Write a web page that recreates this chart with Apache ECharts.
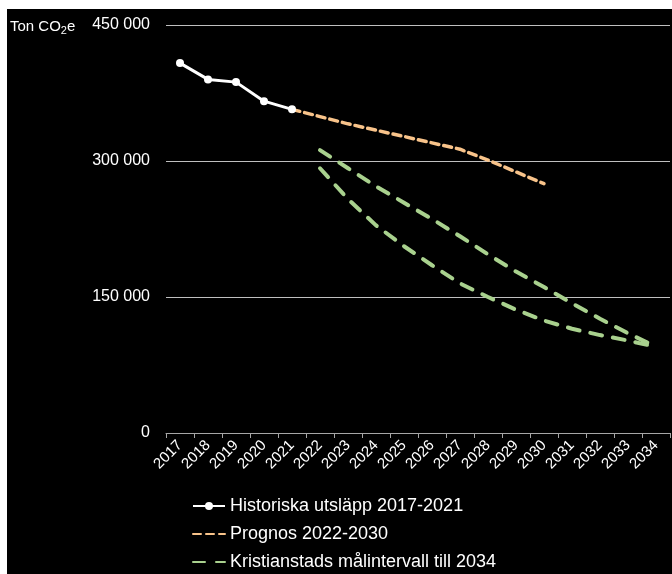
<!DOCTYPE html>
<html>
<head>
<meta charset="utf-8">
<script src="https://cdn.jsdelivr.net/npm/echarts@6/dist/echarts.min.js"></script>
<style>
html,body{margin:0;padding:0;background:#ffffff;width:672px;height:574px;overflow:hidden;}
#c{position:absolute;left:7px;top:9px;width:665px;height:565px;background:#000000;}
</style>
</head>
<body>
<div id="c"></div>
<script>
var years = ['2017','2018','2019','2020','2021','2022','2023','2024','2025','2026','2027','2028','2029','2030','2031','2032','2033','2034'];
var historiska = [408000, 390000, 387000, 366000, 357000, null, null, null, null, null, null, null, null, null, null, null, null, null];
var prognos = [null, null, null, null, 357000, 349000, 341000, 334000, 327000, 320000, 313000, 301000, 288000, 275000, null, null, null, null];
var malOvre = [null, null, null, null, null, 312000, 292000, 272000, 254000, 236000, 217000, 197000, 178000, 161000, 143000, 126000, 110000, 95000];
var malUndre = [null, null, null, null, null, 292000, 258000, 229000, 206000, 185000, 165000, 150000, 136000, 124000, 115000, 108000, 102000, 95000];
var yTicks = [0, 150000, 300000, 450000];
var names = ['Historiska utsläpp 2017-2021', 'Prognos 2022-2030', 'Kristianstads målintervall till 2034'];

var chart = echarts.init(document.getElementById('c'), null, {renderer: 'canvas'});
var font = 'Liberation Sans, Arial, sans-serif';
chart.setOption({
  backgroundColor: '#000000',
  animation: false,
  textStyle: {fontFamily: font},
  title: {
    text: '{a|Ton CO}{b|2}{a|e}',
    left: 3,
    top: 8,
    padding: 0,
    textStyle: {
      fontWeight: 'normal',
      rich: {
        a: {color: '#ffffff', fontSize: 15, fontWeight: 'normal', fontFamily: font},
        b: {color: '#ffffff', fontSize: 11, fontWeight: 'normal', fontFamily: font, padding: [8, 0, 0, 0]}
      }
    }
  },
  grid: {left: 159, top: 16, right: 2, bottom: 141, containLabel: false, outerBoundsMode: 'none'},
  legend: {
    orient: 'vertical',
    left: 185,
    top: 488,
    padding: 0,
    itemWidth: 32,
    itemHeight: 10,
    itemGap: 10,
    data: [
      {name: names[0]},
      {name: names[1], itemStyle: {opacity: 0}},
      {name: names[2], itemStyle: {opacity: 0}}
    ],
    textStyle: {color: '#ffffff', fontSize: 18, fontFamily: font}
  },
  xAxis: {
    type: 'category',
    data: years,
    boundaryGap: true,
    axisLine: {show: true, lineStyle: {color: '#a6a6a6', width: 1}},
    axisTick: {show: true, length: 5, inside: false, alignWithLabel: false, lineStyle: {color: '#a6a6a6'}},
    axisLabel: {color: '#ffffff', fontSize: 15, rotate: 45, margin: 10, interval: 0, fontFamily: font}
  },
  yAxis: {
    type: 'value',
    min: yTicks[0],
    max: yTicks[yTicks.length - 1],
    interval: yTicks[1] - yTicks[0],
    axisLine: {show: false},
    axisTick: {show: false},
    splitLine: {show: true, lineStyle: {color: '#bfbfbf', width: 1}},
    axisLabel: {
      color: '#ffffff', fontSize: 16, margin: 16, fontFamily: font,
      formatter: function (v) { return String(v).replace(/\B(?=(\d{3})+(?!\d))/g, ' '); }
    }
  },
  series: [
    {
      name: names[0], type: 'line', data: historiska,
      symbol: 'circle', symbolSize: 8, showSymbol: true,
      itemStyle: {color: '#ffffff'},
      lineStyle: {color: '#ffffff', width: 3},
      z: 5
    },
    {
      name: names[1], type: 'line', data: prognos,
      showSymbol: false, symbol: 'none',
      itemStyle: {color: '#f8c38a'},
      lineStyle: {color: '#f8c38a', width: 3.5, type: [8, 5], cap: 'round'},
      z: 4
    },
    {
      name: names[2], type: 'line', data: malOvre,
      showSymbol: false, symbol: 'none',
      itemStyle: {color: '#a9d18e'},
      lineStyle: {color: '#a9d18e', width: 4, type: [12, 11], cap: 'round'},
      z: 3
    },
    {
      name: names[2], type: 'line', data: malUndre,
      showSymbol: false, symbol: 'none',
      itemStyle: {color: '#a9d18e'},
      lineStyle: {color: '#a9d18e', width: 4, type: [12, 11], cap: 'round'},
      z: 3
    }
  ]
});
</script>
</body>
</html>
